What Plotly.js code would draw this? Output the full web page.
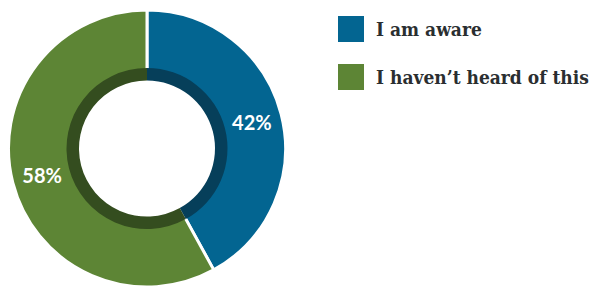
<!DOCTYPE html>
<html><head><meta charset="utf-8">
<script src="https://cdn.plot.ly/plotly-3.0.1.min.js"></script>
<style>html,body{margin:0;padding:0;background:#fff}#chart{width:591px;height:288px}</style>
</head><body><div id="chart"></div>
<script>
const categories = ["I am aware", "I haven\u2019t heard of this"];
const values = [42, 58];
const colors = ["#036591", "#5d8535"];
const darkColors = ["#063f5a", "#344d1f"];

const W = 591, H = 288;
const cx = 147, cy = 148.5, R = 138.5, Rin = 79, Rhole = 68;

const outer = {
  type: "pie", labels: categories, values: values, sort: false,
  direction: "clockwise", rotation: 0,
  hole: (Rin - 1) / R,
  marker: {colors: colors, line: {color: "#ffffff", width: 3}},
  texttemplate: "%{percent:.0%}", textposition: "inside",
  insidetextorientation: "horizontal",
  textfont: {family: "Lato", size: 20, color: "#ffffff", weight: "bold"},
  hoverinfo: "none", showlegend: false,
  domain: {x: [(cx - R) / W, (cx + R) / W], y: [(H - cy - R) / H, (H - cy + R) / H]}
};
const Ri = Rin + 1.5;
const inner = {
  type: "pie", labels: categories, values: values, sort: false,
  direction: "clockwise", rotation: 0,
  hole: Rhole / Ri,
  marker: {colors: darkColors, line: {width: 0}},
  textinfo: "none", hoverinfo: "none", showlegend: false,
  domain: {x: [(cx - Ri) / W, (cx + Ri) / W], y: [(H - cy - Ri) / H, (H - cy + Ri) / H]}
};

const shapes = [], annotations = [];
const legX0 = 338, legSize = 26, legY = [29, 77];
categories.forEach((c, i) => {
  shapes.push({type: "rect", xref: "paper", yref: "paper",
    x0: legX0 / W, x1: (legX0 + legSize) / W,
    y0: 1 - (legY[i] + legSize / 2) / H, y1: 1 - (legY[i] - legSize / 2) / H,
    fillcolor: colors[i], line: {width: 0}});
  annotations.push({xref: "paper", yref: "paper", x: 374 / W, y: 1 - legY[i] / H,
    xanchor: "left", yanchor: "middle", showarrow: false, text: "<b>" + c + "</b>",
    font: {family: "DejaVu Serif Condensed, DejaVu Serif", size: 19, color: "#2a2e30"}});
});

Plotly.newPlot("chart", [outer, inner], {
  width: W, height: H, margin: {l: 0, r: 0, t: 0, b: 0},
  paper_bgcolor: "#ffffff", showlegend: false, shapes: shapes, annotations: annotations
}, {staticPlot: true});
</script></body></html>
